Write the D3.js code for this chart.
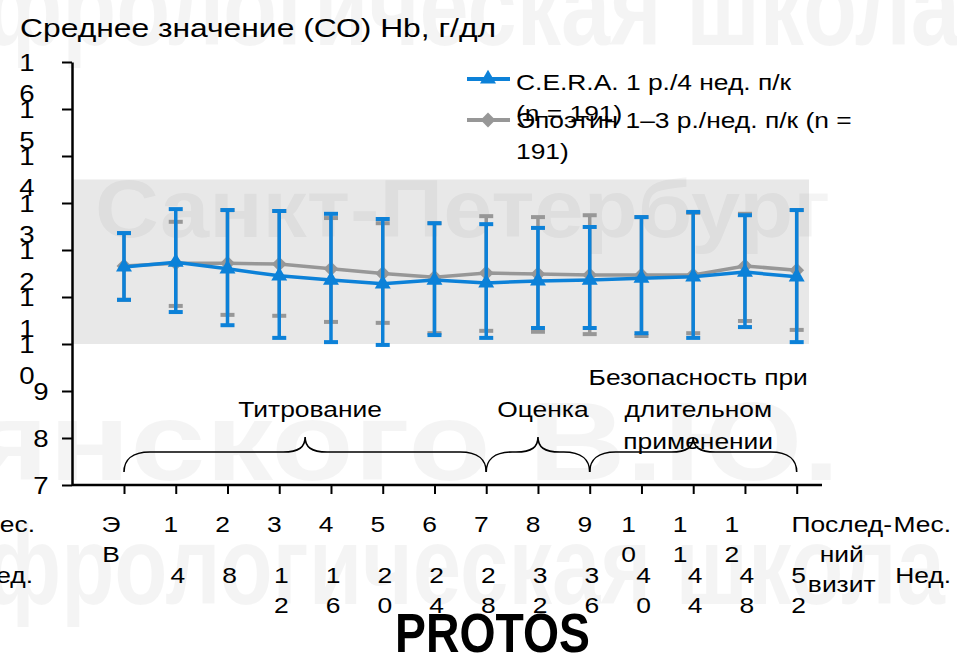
<!DOCTYPE html>
<html>
<head>
<meta charset="utf-8">
<script src="https://cdn.jsdelivr.net/npm/d3@7"></script>
<style>
body { margin: 0; background: #fff; }
svg { display: block; font-family: "Liberation Sans", Arial, sans-serif; }
</style>
</head>
<body>
<div id="chart"></div>
<script>
// visits along the x axis and the little table of labels under it
var visits = ["ЭВ", "1", "2", "3", "4", "5", "6", "7", "8", "9", "10", "11", "12", "Последний визит"];
var monthLabels = [["Э", "В"], ["1"], ["2"], ["3"], ["4"], ["5"], ["6"], ["7"], ["8"], ["9"],
	["1", "0"], ["1", "1"], ["1", "2"], ["Послед-", "ний", "визит"]];
var weekLabels = [[], ["4"], ["8"], ["1", "2"], ["1", "6"], ["2", "0"], ["2", "4"], ["2", "8"],
	["3", "2"], ["3", "6"], ["4", "0"], ["4", "4"], ["4", "8"], ["5", "2"]];

// mean Hb (g/dl) and the ends of the error bars
var ceraMean = [11.64, 11.74, 11.60, 11.45, 11.36, 11.28, 11.36, 11.30, 11.34, 11.36, 11.40, 11.43, 11.53, 11.43];
var ceraHi   = [12.36, 12.87, 12.85, 12.83, 12.77, 12.66, 12.57, 12.55, 12.47, 12.49, 12.70, 12.81, 12.74, 12.85];
var ceraLo   = [10.94, 10.68, 10.40, 10.13, 10.04, 9.98, 10.19, 10.13, 10.34, 10.34, 10.23, 10.13, 10.36, 10.04];

var epoMean = [11.66, 11.72, 11.72, 11.70, 11.60, 11.50, 11.42, 11.51, 11.49, 11.47, 11.47, 11.47, 11.66, 11.57];
var epoHi   = [12.36, 12.60, 12.85, 12.83, 12.68, 12.57, 12.57, 12.72, 12.70, 12.74, 12.70, 12.79, 12.77, 12.85];
var epoLo   = [10.94, 10.81, 10.62, 10.60, 10.47, 10.45, 10.23, 10.28, 10.26, 10.21, 10.17, 10.23, 10.49, 10.30];

var yTicks = [7, 8, 9, 10, 11, 12, 13, 14, 15, 16];
var targetRange = [10, 13.5];

var legendLabels = [["C.E.R.A. 1 р./4 нед. п/к", "(n = 191)"], ["Эпоэтин 1–3 р./нед. п/к (n =", "191)"]];

// study phases shown with braces
var phaseNames = [["Титрование"], ["Оценка"], ["Безопасность при", "длительном", "применении"]];
var phaseFrom = ["ЭВ", "7", "9"];
var phaseTo = ["7", "9", "Последний визит"];

var width = 957,
	height = 655,
	SX = 1.2,          // the original slide text is a bit stretched sideways
	FS = 22,
	BLUE = "#0c81d8",
	GREY = "#979797";

var svg = d3.select("#chart").append("svg")
	.attr("width", width)
	.attr("height", height);

var x = d3.scalePoint().domain(visits).range([124, 796.7]);
var y = d3.scaleLinear().domain([7, 16]).range([485, 62]);

// stretched multi-line text helper
var stext = function(parent, px, py, lines, opts) {
	opts = opts || {};
	var t = parent.append("text")
		.attr("transform", "translate(" + px + "," + py + ") scale(" + (opts.sx || SX) + ",1)")
		.style("font-size", (opts.size || FS) + "px")
		.style("fill", opts.fill || "#000")
		.style("text-anchor", opts.anchor || "start");
	lines.forEach(function(line, i) {
		t.append("tspan")
			.attr("x", 0)
			.attr("y", i * (opts.lh || 31))
			.text(line);
	});
	return t;
};

// target band
svg.append("rect")
	.attr("x", 72)
	.attr("y", y(targetRange[1]))
	.attr("width", 809 - 72)
	.attr("height", y(targetRange[0]) - y(targetRange[1]))
	.style("fill", "#e8e8e8");

// faint watermark of the slide
var wm = svg.append("g").style("fill", "#000").style("fill-opacity", 0.045).style("font-weight", "bold");
var addMark = function(str, px, py, size, len) {
	wm.append("text")
		.attr("x", px).attr("y", py)
		.attr("textLength", len)
		.attr("lengthAdjust", "spacingAndGlyphs")
		.style("font-size", size + "px")
		.text(str);
};
addMark("фрологическая школа", -15, 45, 112, 975);
addMark("Санкт-Петербург", 95, 237, 82, 735);
addMark("янского В.Ю.", -30, 480, 112, 870);
addMark("фрологическая школа", -15, 604, 112, 960);

// y axis
var yAxis = svg.append("g")
	.attr("transform", "translate(72,0)")
	.call(d3.axisLeft(y).tickValues(yTicks).tickSize(10).tickSizeOuter(0));
yAxis.select(".domain").style("stroke", "#000").style("stroke-width", 2.5);
yAxis.selectAll(".tick line").style("stroke", "#000").style("stroke-width", 2);
yAxis.selectAll(".tick text").remove();

yTicks.forEach(function(v) {
	var chars = String(v).split("");
	stext(svg, chars.length > 1 ? 27 : 41, y(v) + 8.5, chars, { anchor: "middle", lh: 32, size: 23 });
});

// x axis
var xAxis = svg.append("g")
	.attr("transform", "translate(0,485)")
	.call(d3.axisBottom(x).tickSize(9).tickSizeOuter(0));
xAxis.select(".domain").attr("d", "M72,0H822").style("stroke", "#000").style("stroke-width", 2.5);
xAxis.selectAll(".tick line").style("stroke", "#000").style("stroke-width", 2);
xAxis.selectAll(".tick text").remove();

// label table under the axis
visits.forEach(function(v, i) {
	var m = monthLabels[i];
	var mx = x(v) - 5;
	if (m.length == 2) mx = x(v) - 13;
	if (m.length == 3) mx = x(v) + 45;
	stext(svg, mx, 532, m, { anchor: "middle", lh: 30 });
	stext(svg, x(v) + 2, 583, weekLabels[i], { anchor: "middle", lh: 30 });
});
stext(svg, 35, 532, ["Мес."], { anchor: "end" });
stext(svg, 33, 583, ["Нед."], { anchor: "end" });
stext(svg, 951, 532, ["Мес."], { anchor: "end" });
stext(svg, 951, 583, ["Нед."], { anchor: "end" });

// phase braces
var brace = function(x1, x2) {
	var xm = (x1 + x2) / 2, r = 26, t = 22;
	return "M" + x1 + ",472" +
		"C" + x1 + ",460 " + (x1 + 8) + ",452 " + (x1 + r) + ",452" +
		"L" + (xm - t) + ",452" +
		"C" + (xm - 6) + ",452 " + xm + ",447 " + xm + ",437" +
		"C" + xm + ",447 " + (xm + 6) + ",452 " + (xm + t) + ",452" +
		"L" + (x2 - r) + ",452" +
		"C" + (x2 - 8) + ",452 " + x2 + ",460 " + x2 + ",472";
};
phaseNames.forEach(function(name, i) {
	var x1 = x(phaseFrom[i]), x2 = x(phaseTo[i]);
	svg.append("path")
		.attr("d", brace(x1, x2))
		.style("fill", "none")
		.style("stroke", "#000")
		.style("stroke-width", 1.6);
	var base = 417 - (name.length - 1) / 2 * 32;
	stext(svg, (x1 + x2) / 2 + 5, base, name, { anchor: "middle", lh: 32 });
});

// series: error bars, line, markers
var line = d3.line()
	.x(function(d, i) { return x(visits[i]); })
	.y(function(d) { return y(d); });

var drawSeries = function(mean, hi, lo, color, symbol, rot) {
	var g = svg.append("g");
	visits.forEach(function(v, i) {
		var cx = x(v);
		g.append("line")
			.attr("x1", cx).attr("x2", cx)
			.attr("y1", y(hi[i])).attr("y2", y(lo[i]))
			.style("stroke", color).style("stroke-width", 3.5);
		[hi[i], lo[i]].forEach(function(e) {
			g.append("line")
				.attr("x1", cx - 7).attr("x2", cx + 7)
				.attr("y1", y(e)).attr("y2", y(e))
				.style("stroke", color).style("stroke-width", 4);
		});
	});
	g.append("path")
		.attr("d", line(mean))
		.style("fill", "none")
		.style("stroke", color)
		.style("stroke-width", 3.5);
	g.selectAll(".mk")
		.data(mean)
		.enter()
		.append("path")
		.attr("d", d3.symbol().type(symbol).size(110))
		.attr("transform", function(d, i) {
			return "translate(" + x(visits[i]) + "," + y(d) + ") rotate(" + rot + ")";
		})
		.style("fill", color);
};

drawSeries(epoMean, epoHi, epoLo, GREY, d3.symbolSquare, 45);
drawSeries(ceraMean, ceraHi, ceraLo, BLUE, d3.symbolTriangle, 0);

// legend
var legend = svg.append("g");
[[BLUE, d3.symbolTriangle, 0, 79], [GREY, d3.symbolSquare, 45, 120]].forEach(function(l, i) {
	legend.append("line")
		.attr("x1", 467).attr("x2", 510)
		.attr("y1", l[3]).attr("y2", l[3])
		.style("stroke", l[0]).style("stroke-width", 4);
	legend.append("path")
		.attr("d", d3.symbol().type(l[1]).size(110))
		.attr("transform", "translate(488," + l[3] + ") rotate(" + l[2] + ")")
		.style("fill", l[0]);
	stext(legend, 516, l[3] + 11 + (i == 1 ? -3 : 0), legendLabels[i], { lh: 31 });
});

// title and study name
stext(svg, 20, 36.5, ["Среднее значение (СО) Hb, г/дл"], { size: 26.5 });
svg.append("text")
	.attr("x", 395).attr("y", 652)
	.attr("textLength", 195)
	.attr("lengthAdjust", "spacingAndGlyphs")
	.style("font-size", "55px")
	.style("font-weight", "bold")
	.text("PROTOS");
</script>
</body>
</html>
